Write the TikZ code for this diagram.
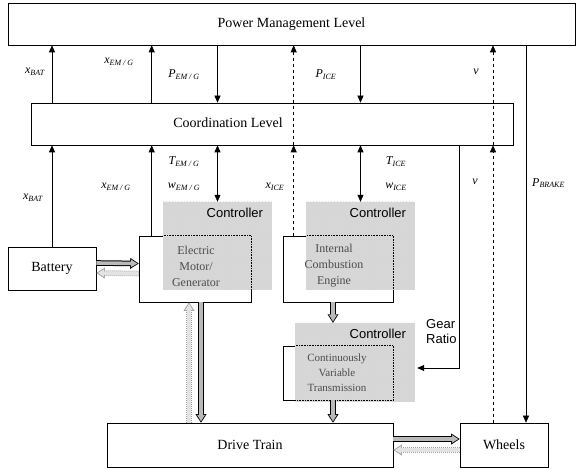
\documentclass[tikz,border=0pt]{standalone}
\usepackage{fontspec}
\setmainfont{Liberation Serif}
\newfontfamily\ctlfont{Liberation Sans}
\usetikzlibrary{arrows.meta, patterns}

\begin{document}
\begin{tikzpicture}[x=1pt, y=-1pt,
    font=\fontsize{14}{16}\selectfont,
    box/.style={rectangle, draw=black, fill=white, semithick, inner sep=0pt},
    ctlarea/.style={rectangle, draw=none, inner sep=0pt, preaction={fill=gray!32}, pattern=crosshatch dots, pattern color=white!70!gray},
    ctltext/.style={font=\ctlfont\fontsize{13}{15}\selectfont, inner sep=0pt},
    inner/.style={align=center, text=gray!60!black, font=\fontsize{12}{16}\selectfont, inner sep=0pt},
    sig/.style={font=\itshape\fontsize{12}{14}\selectfont, inner sep=1pt},
    arr/.style={semithick, -{Triangle[length=7pt,width=6pt]}},
    darr/.style={semithick, {Triangle[length=7pt,width=6pt]}-{Triangle[length=7pt,width=6pt]}},
    fat/.style={draw=gray!55, line width=3.6pt, shorten >=1.4pt, -{Triangle[length=6.5pt,width=8pt,line width=0pt]},
        preaction={draw=black, line width=5.6pt, shorten >=0pt, -{Triangle[length=8.5pt,width=11pt,line width=0pt]}}},
    fatback/.style={draw=gray!22, line width=3.6pt, shorten >=1.4pt, -{Triangle[length=6.5pt,width=8pt,line width=0pt]},
        preaction={draw=gray!75, line width=5.6pt, dash pattern=on 1pt off 1pt, shorten >=0pt, -{Triangle[length=8.5pt,width=11pt,line width=0pt]}}}
]
\useasboundingbox (0,0) rectangle (576,470);

\node[box, minimum width=567pt, minimum height=42pt] (pml) at (291.5,24) {Power Management Level};
\node[box, minimum width=482pt, minimum height=42pt] (cl) at (272,124) {};
\node (cltext) at (228,123) {Coordination Level};
\node[box, minimum width=88pt, minimum height=43pt] (bat) at (52,268.5) {Battery};
\node[box, minimum width=112pt, minimum height=66pt] (emg) at (195,269) {};
\node[box, minimum width=110pt, minimum height=66pt] (ice) at (338,269) {};
\node[box, minimum width=110pt, minimum height=54pt] (cvt) at (338,373) {};
\node[box, minimum width=286pt, minimum height=44pt] (dt) at (250,445) {Drive Train};
\node[box, minimum width=88pt, minimum height=44pt] (wh) at (504,445) {Wheels};

\node[ctlarea, minimum width=109pt, minimum height=88pt] (emgctl) at (217.5,246) {};
\node[ctlarea, minimum width=109pt, minimum height=88pt] (icectl) at (360.5,246) {};
\node[ctlarea, minimum width=120pt, minimum height=79pt] (cvtctl) at (355,362.5) {};

\foreach \b/\c in {emg/emgctl, ice/icectl, cvt/cvtctl}{
  \begin{scope}
    \clip (\c.north west) rectangle (\c.south east);
    \draw[densely dotted, semithick] (\b.north west) rectangle (\b.south east);
  \end{scope}
}

\node[ctltext, anchor=north east] (emgctltext) at ([xshift=-9pt,yshift=-6pt]emgctl.north east) {Controller};
\node[ctltext, anchor=north east] (icectltext) at ([xshift=-9pt,yshift=-6pt]icectl.north east) {Controller};
\node[ctltext, anchor=north east] (cvtctltext) at ([xshift=-9pt,yshift=-6pt]cvtctl.north east) {Controller};
\node[inner] (emgtext) at (196,266) {Electric\\Motor/\\Generator};
\node[inner] (icetext) at (334,266) {Internal\\Combustion\\Engine};
\node[inner, font=\fontsize{11}{15}\selectfont] (cvttext) at (337,373) {Continuously\\Variable\\Transmission};

\coordinate (xemg) at ([xshift=13pt]emg.north west);
\coordinate (xice) at ([xshift=11pt]ice.north west);
\coordinate (vw) at ([xshift=-11pt]wh.north);
\coordinate (brk) at ([xshift=22pt]wh.north);
\coordinate (emgout) at ([xshift=6pt]emg.south);
\coordinate (emgin) at ([xshift=-6pt]emg.south);
\coordinate (iceout) at ([xshift=-5pt]ice.south);

\draw[arr] (cl.north -| bat) -- (pml.south -| bat);
\draw[arr] (cl.north -| xemg) -- (pml.south -| xemg);
\draw[arr] (pml.south -| emgctl) -- (cl.north -| emgctl);
\draw[arr, dashed] (cl.south -| xice) -- (pml.south -| xice);
\draw[arr] (pml.south -| icectl) -- (cl.north -| icectl);
\draw[arr, dashed] (cl.south -| vw) -- (pml.south -| vw);
\draw[arr] (pml.south -| brk) -- (brk);

\draw[arr] (bat.north) -- (cl.south -| bat);
\draw[arr] (xemg) -- (cl.south -| xemg);
\draw[darr] (cl.south -| emgctl) -- (emgctl.north);
\draw[arr, dashed] (xice) -- (cl.south -| xice);
\draw[darr] (cl.south -| icectl) -- (icectl.north);
\draw[arr] (cl.south -| wh.west) |- ([xshift=2pt,yshift=-5.5pt]cvtctl.east);
\draw[arr, dashed] (vw) -- (cl.south -| vw);

\draw[fat] ([yshift=5.5pt]bat.east) -- ([yshift=5.5pt]emg.west);
\draw[fatback] ([yshift=-4.5pt]emg.west) -- ([yshift=-4.5pt]bat.east);
\draw[fat] (emgout) -- (emgout |- dt.north);
\draw[fatback] (emgin |- dt.north) -- (emgin);
\draw[fat] (iceout) -- (iceout |- cvtctl.north);
\draw[fat] (iceout |- cvt.south) -- (iceout |- dt.north);
\draw[fat] ([yshift=6pt]dt.east) -- ([yshift=6pt]wh.west);
\draw[fatback] ([yshift=-5pt]wh.west) -- ([yshift=-5pt]dt.east);

\node[sig] (xbat1) at (35,72) {x\textsubscript{BAT}};
\node[sig] (xemg1) at (119,62) {x\textsubscript{EM / G}};
\node[sig] (pemg) at (184,75) {P\textsubscript{EM / G}};
\node[sig] (pice) at (326,75) {P\textsubscript{ICE}};
\node[sig] (v1) at (476,72) {v};
\node[sig] (xbat2) at (33,198) {x\textsubscript{BAT}};
\node[sig] (xemg2) at (116,187) {x\textsubscript{EM / G}};
\node[sig] (temg) at (184,162) {T\textsubscript{EM / G}};
\node[sig] (wemg) at (184,187) {w\textsubscript{EM / G}};
\node[sig] (xice2) at (275,187) {x\textsubscript{ICE}};
\node[sig] (tice) at (396,162) {T\textsubscript{ICE}};
\node[sig] (wice) at (396,187) {w\textsubscript{ICE}};
\node[sig] (v2) at (475,182) {v};
\node[sig, anchor=west] (pbrake) at (531,183) {P\textsubscript{BRAKE}};
\node[ctltext, align=left, anchor=west] (gear) at (426,332) {Gear\\Ratio};
\end{tikzpicture}
\end{document}
